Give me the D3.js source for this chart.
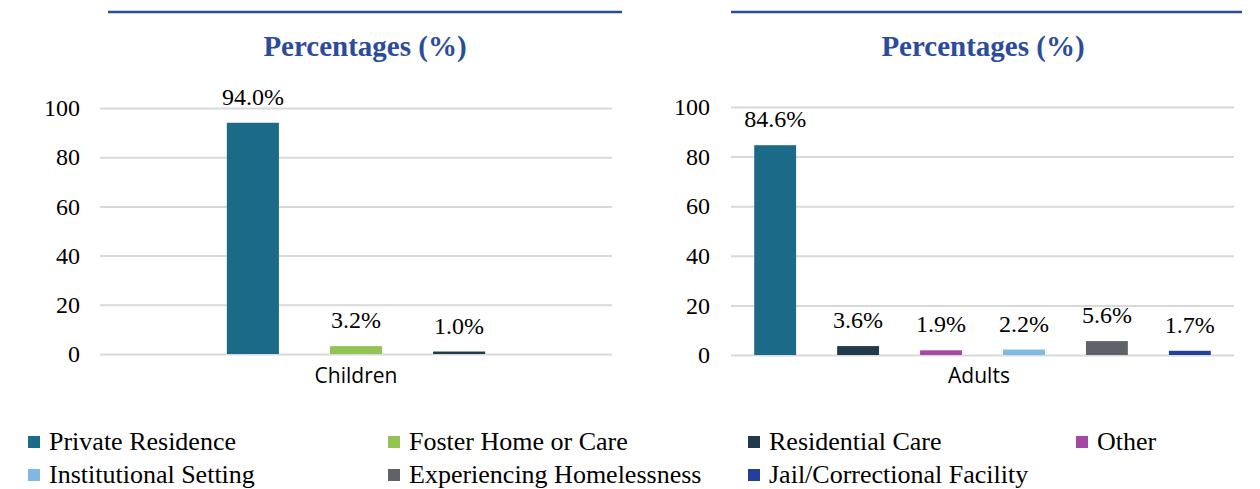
<!DOCTYPE html>
<html>
<head>
<meta charset="utf-8">
<script src="https://cdn.jsdelivr.net/npm/d3@7"></script>
<style>
  body { margin: 0; background: #fff; }
  svg { display: block; }
</style>
</head>
<body>
<div id="chart"></div>
<script>
var seriesNames = ['Private Residence', 'Foster Home or Care', 'Residential Care', 'Other',
  'Institutional Setting', 'Experiencing Homelessness', 'Jail/Correctional Facility']
var seriesColors = ['#1b6a87', '#92c353', '#213a4a', '#a349a4', '#7db9e3', '#5f6369', '#233f97']

var childSeries = ['Private Residence', 'Foster Home or Care', 'Residential Care']
var childValues = [94.0, 3.2, 1.0]

var adultSeries = ['Private Residence', 'Residential Care', 'Other', 'Institutional Setting',
  'Experiencing Homelessness', 'Jail/Correctional Facility']
var adultValues = [84.6, 3.6, 1.9, 2.2, 5.6, 1.7]

var yTicks = [0, 20, 40, 60, 80, 100]

var SERIF = '"Liberation Serif", "Times New Roman", serif'
var SANS = '"Open Sans", "Noto Sans", sans-serif'
var titleBlue = '#2c4b9b'
var color = d3.scaleOrdinal().domain(seriesNames).range(seriesColors)

var svg = d3.select('#chart').append('svg')
  .attr('width', 1260).attr('height', 489)

var panels = [
  {category: 'Children', names: childSeries, values: childValues,
   lineX: [108, 622], titleX: 365, plotX: [100, 612], y0: 354, y1: 108, tickX: 80, pad: 1.23, catX: 356},
  {category: 'Adults', names: adultSeries, values: adultValues,
   lineX: [731, 1242], titleX: 983, plotX: [731, 1234], y0: 355, y1: 107, tickX: 710, pad: 0.28, catX: 979}
]

panels.forEach(function(p){
  var g = svg.append('g')

  g.append('line')
    .attr('x1', p.lineX[0]).attr('x2', p.lineX[1])
    .attr('y1', 12).attr('y2', 12)
    .attr('stroke', titleBlue).attr('stroke-width', 2.5)

  g.append('text')
    .attr('x', p.titleX).attr('y', 56)
    .attr('text-anchor', 'middle')
    .style('font-family', SERIF).style('font-size', '29px').style('font-weight', 'bold')
    .attr('fill', titleBlue)
    .text('Percentages (%)')

  var y = d3.scaleLinear().domain([0, 100]).range([p.y0, p.y1])
  var x = d3.scaleBand().domain(p.names).range(p.plotX)
    .paddingInner(0.495).paddingOuter(p.pad)

  // gridlines + tick labels
  var axis = d3.axisLeft(y).tickValues(yTicks)
    .tickSize(-(p.plotX[1] - p.plotX[0])).tickPadding(p.plotX[0] - p.tickX)
  var ax = g.append('g').attr('transform', 'translate(' + p.plotX[0] + ',0)').call(axis)
  ax.attr('font-family', null)
  ax.select('.domain').remove()
  ax.selectAll('.tick line').attr('stroke', '#d9d9d9').attr('stroke-width', 2)
  ax.selectAll('.tick text')
    .style('font-family', SERIF).style('font-size', '24px').attr('fill', '#000')

  var data = p.names.map(function(n, i){ return {name: n, val: p.values[i]} })

  g.selectAll('rect.bar').data(data).enter().append('rect')
    .attr('class', 'bar')
    .attr('x', function(d){ return x(d.name) })
    .attr('width', x.bandwidth())
    .attr('y', function(d){ return y(d.val) })
    .attr('height', function(d){ return y(0) - y(d.val) })
    .attr('fill', function(d){ return color(d.name) })

  g.selectAll('text.val').data(data).enter().append('text')
    .attr('class', 'val')
    .attr('x', function(d){ return x(d.name) + x.bandwidth()/2 })
    .attr('y', function(d){ return y(d.val) - 18 })
    .attr('text-anchor', 'middle')
    .style('font-family', SERIF).style('font-size', '24px')
    .text(function(d){ return d.val.toFixed(1) + '%' })

  g.append('text')
    .attr('x', p.catX).attr('y', 383)
    .attr('text-anchor', 'middle')
    .style('font-family', SANS).style('font-size', '21px')
    .text(p.category)
})

// legend
var legendCols = [28, 388, 748, 1076]
var legendRows = [442, 475]
var leg = svg.append('g').selectAll('g').data(seriesNames).enter().append('g')
  .attr('transform', function(d, i){
    return 'translate(' + legendCols[i % 4] + ',' + legendRows[Math.floor(i / 4)] + ')'
  })
leg.append('rect').attr('x', 0).attr('y', -6).attr('width', 12).attr('height', 12)
  .attr('fill', function(d){ return color(d) })
leg.append('text')
  .attr('x', 21).attr('y', 8)
  .style('font-family', SERIF).style('font-size', '26px')
  .text(function(d){ return d })
</script>
</body>
</html>
